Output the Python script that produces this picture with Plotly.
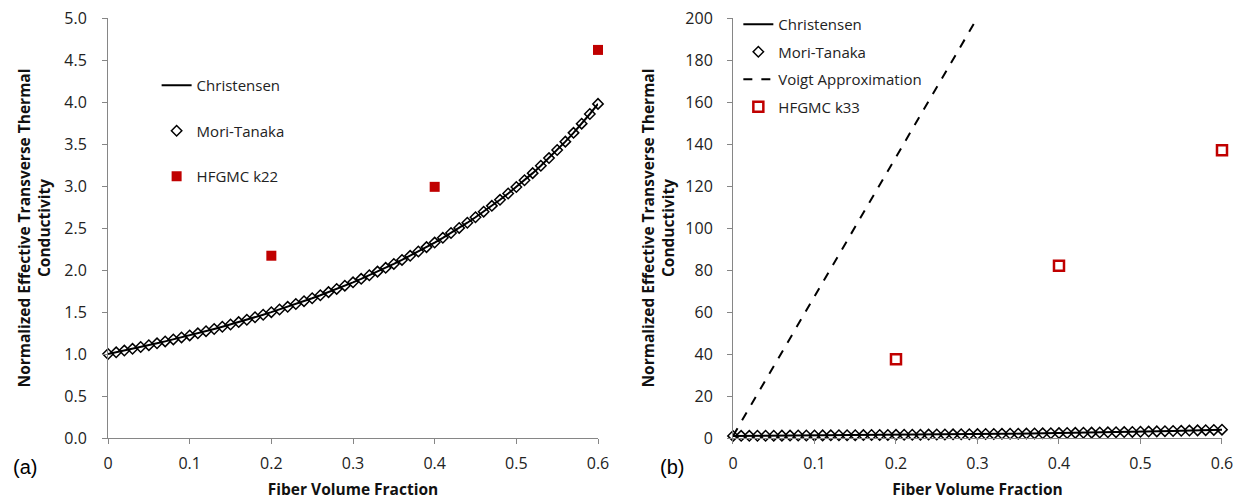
import plotly.graph_objects as go

# Fiber volume fraction grid
vf = [round(i * 0.01, 2) for i in range(61)]

# Christensen / Mori-Tanaka normalized conductivity
model_k = [1.0000, 1.0201, 1.0407, 1.0617, 1.0831, 1.1049, 1.1272, 1.1501, 1.1733, 1.1972,
           1.2215, 1.2464, 1.2718, 1.2978, 1.3244, 1.3517, 1.3796, 1.4082, 1.4374, 1.4674,
           1.4981, 1.5296, 1.5619, 1.5951, 1.6291, 1.6640, 1.6999, 1.7367, 1.7745, 1.8135,
           1.8535, 1.8947, 1.9370, 1.9807, 2.0256, 2.0720, 2.1197, 2.1690, 2.2199, 2.2724,
           2.3267, 2.3828, 2.4408, 2.5009, 2.5630, 2.6275, 2.6943, 2.7636, 2.8355, 2.9103,
           2.9880, 3.0689, 3.1532, 3.2410, 3.3326, 3.4282, 3.5282, 3.6327, 3.7423, 3.8571,
           3.9776]

hfgmc_x = [0.2, 0.4, 0.6]
hfgmc_k22 = [2.17, 2.99, 4.62]
hfgmc_k33 = [37.5, 82.0, 137.0]

voigt_x = [0.0, 0.6]
voigt_y = [1.0, 399.4]

FONT = "Open Sans"
AXIS_COLOR = "#868686"
RED = "#C00000"

fig = go.Figure()

# ---- Left panel (a)
fig.add_trace(go.Scatter(x=vf, y=model_k, mode="lines", name="Christensen",
                         line=dict(color="black", width=2), xaxis="x", yaxis="y",
                         legend="legend", legendgroup="a1"))
fig.add_trace(go.Scatter(x=vf, y=model_k, mode="markers", name="Mori-Tanaka",
                         marker=dict(symbol="diamond-open", size=8, color="black",
                                     line=dict(width=1.5, color="black")),
                         cliponaxis=False, xaxis="x", yaxis="y",
                         legend="legend", legendgroup="a2"))
fig.add_trace(go.Scatter(x=hfgmc_x, y=hfgmc_k22, mode="markers", name="HFGMC k22",
                         marker=dict(symbol="square", size=10, color=RED),
                         cliponaxis=False, xaxis="x", yaxis="y",
                         legend="legend", legendgroup="a3"))

# ---- Right panel (b)
fig.add_trace(go.Scatter(x=vf, y=model_k, mode="lines", name="Christensen",
                         line=dict(color="black", width=2), xaxis="x2", yaxis="y2",
                         legend="legend2", legendgroup="b1"))
fig.add_trace(go.Scatter(x=vf, y=model_k, mode="markers", name="Mori-Tanaka",
                         marker=dict(symbol="diamond-open", size=8, color="black",
                                     line=dict(width=1.5, color="black")),
                         cliponaxis=False, xaxis="x2", yaxis="y2",
                         legend="legend2", legendgroup="b2"))
fig.add_trace(go.Scatter(x=voigt_x, y=voigt_y, mode="lines", name="Voigt Approximation",
                         line=dict(color="black", width=2, dash="dash"),
                         xaxis="x2", yaxis="y2", legend="legend2", legendgroup="b3"))
fig.add_trace(go.Scatter(x=hfgmc_x, y=hfgmc_k33, mode="markers", name="HFGMC k33",
                         marker=dict(symbol="square-open", size=10, color=RED,
                                     line=dict(width=2.5, color=RED)),
                         cliponaxis=False, xaxis="x2", yaxis="y2",
                         legend="legend2", legendgroup="b4"))

axis_common = dict(showline=True, linecolor=AXIS_COLOR, linewidth=1,
                   ticks="outside", ticklen=5, tickcolor=AXIS_COLOR,
                   showgrid=False, zeroline=False, automargin=False,
                   tickfont=dict(family=FONT, size=16, color="#222222"))
TITLE_FONT = dict(family=FONT, size=15.5, color="#111111")


def xtitle():
    return dict(text="<b>Fiber Volume Fraction</b>", font=TITLE_FONT, standoff=10)


def ytitle(standoff):
    return dict(text="<b>Normalized Effective Transverse Thermal<br>Conductivity</b>",
                font=TITLE_FONT, standoff=standoff)


fig.update_layout(
    width=1243, height=500,
    margin=dict(l=0, r=0, t=0, b=0),
    paper_bgcolor="white", plot_bgcolor="white",
    font=dict(family=FONT, color="#222222"),
    xaxis=dict(domain=[0.0869, 0.4811], range=[0, 0.6], dtick=0.1,
               tickformat="~g", anchor="y", title=xtitle(), ticklabelstandoff=6,
               **axis_common),
    yaxis=dict(domain=[0.124, 0.964], range=[0, 5.0], dtick=0.5,
               tickformat=".1f", anchor="x", title=ytitle(9), ticklabelstandoff=12,
               **axis_common),
    xaxis2=dict(domain=[0.5897, 0.9831], range=[0, 0.6], dtick=0.1,
                tickformat="~g", anchor="y2", title=xtitle(), ticklabelstandoff=6,
                **axis_common),
    yaxis2=dict(domain=[0.124, 0.964], range=[0, 200], dtick=20,
                anchor="x2", title=ytitle(6), ticklabelstandoff=11,
                **axis_common),
    legend=dict(x=0.126, y=0.862, xanchor="left", yanchor="top",
                bgcolor="rgba(0,0,0,0)", tracegroupgap=23,
                font=dict(family=FONT, size=15, color="#222222"), itemwidth=30),
    legend2=dict(x=0.594, y=0.984, xanchor="left", yanchor="top",
                 bgcolor="rgba(0,0,0,0)", tracegroupgap=5,
                 font=dict(family=FONT, size=15, color="#222222"), itemwidth=30),
    annotations=[
        dict(text="(a)", x=0.009, y=0.067, xref="paper", yref="paper",
             xanchor="left", yanchor="middle", showarrow=False,
             font=dict(family="Liberation Sans", size=20, color="black")),
        dict(text="(b)", x=0.529, y=0.067, xref="paper", yref="paper",
             xanchor="left", yanchor="middle", showarrow=False,
             font=dict(family="Liberation Sans", size=20, color="black")),
    ],
)

fig.write_html("out.html")
